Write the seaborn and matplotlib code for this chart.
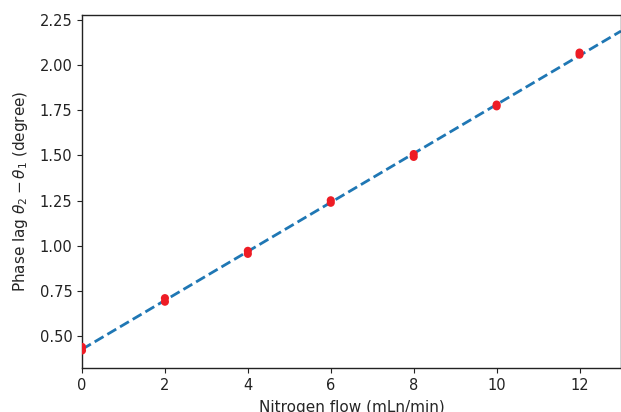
import numpy as np
import pandas as pd
import matplotlib
matplotlib.use("Agg")
import matplotlib.pyplot as plt
import seaborn as sns

# measured phase lag at each nitrogen flow (two readings per flow)
flow = [0, 0, 2, 2, 4, 4, 6, 6, 8, 8, 10, 10, 12, 12]
phase_lag = [0.42, 0.44, 0.69, 0.71, 0.955, 0.972, 1.238, 1.252, 1.492, 1.508,
             1.772, 1.782, 2.058, 2.070]

df = pd.DataFrame({"flow": flow, "lag": phase_lag})

sns.set_style("ticks")
plt.rcParams["font.family"] = ["DejaVu Sans"]

fig = plt.figure(figsize=(6.21, 4.12), dpi=100)
ax = fig.add_axes([82 / 621, 44 / 412, 539 / 621, 353 / 412])

# linear fit across the whole axis
slope, icpt = np.polyfit(df["flow"], df["lag"], 1)
xs = np.array([0, 13])
ax.plot(xs, icpt + slope * xs, "--", color="#1f77b4", linewidth=2, zorder=2)

sns.scatterplot(data=df, x="flow", y="lag", ax=ax, color="#ee1c25",
                s=34, edgecolor="none", zorder=3)

ax.set_xlim(0, 13)
ax.set_ylim(0.323, 2.278)
ax.set_xticks([0, 2, 4, 6, 8, 10, 12])
ax.set_yticks([0.50, 0.75, 1.00, 1.25, 1.50, 1.75, 2.00, 2.25])
ax.set_yticklabels([f"{v:.2f}" for v in ax.get_yticks()])
ax.tick_params(labelsize=10.5, colors="#222222")
for sp in ax.spines.values():
    sp.set_color("#222222")
    sp.set_linewidth(1.0)

ax.set_xlabel("Nitrogen flow (mLn/min)", fontsize=11, labelpad=5)
ax.set_ylabel(r"Phase lag $\theta_2-\theta_1$ (degree)", fontsize=11, labelpad=7)

fig.savefig("out.png", dpi=100)
